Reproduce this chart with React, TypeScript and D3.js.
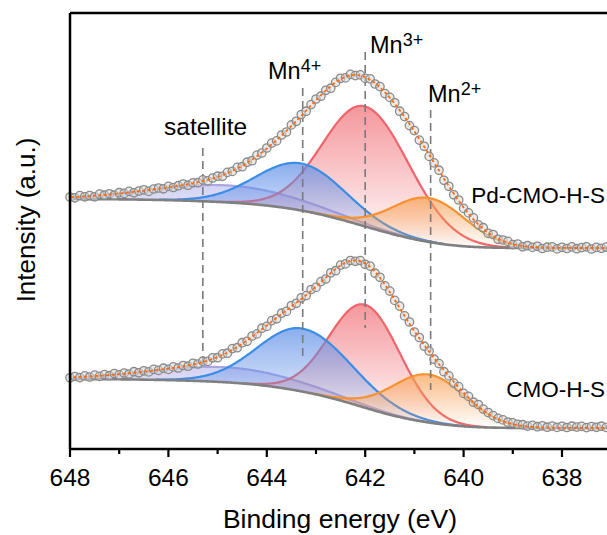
import React from "react";
import * as d3 from "d3";

// Measured spectra (intensity, a.u.), sampled every 0.1 eV from 648.0 eV down to 637.0 eV
const ENERGY_START = 648.0;
const ENERGY_STEP = 0.1;

const pdCmoCounts = [
  252.0, 251.2, 253.4, 252.2, 253.5, 252.2, 254.9, 253.8, 255.2, 253.8,
  256.3, 255.6, 257.6, 256.2, 258.0, 259.2, 257.6, 260.0, 261.0, 260.2,
  262.6, 261.5, 263.3, 265.0, 263.8, 266.2, 266.3, 269.1, 268.1, 271.0,
  272.8, 272.7, 276.6, 277.6, 281.6, 282.3, 286.8, 288.3, 293.9, 296.0,
  301.0, 305.9, 308.1, 314.0, 317.0, 324.1, 327.7, 334.5, 337.8, 344.4,
  350.0, 352.8, 358.7, 360.8, 366.6, 370.7, 371.1, 374.6, 373.4, 374.1,
  370.6, 370.1, 365.0, 362.4, 355.4, 351.6, 346.2, 337.8, 332.4, 323.4,
  318.4, 308.9, 302.7, 292.6, 286.1, 278.8, 268.7, 262.7, 254.2, 249.0,
  240.6, 236.1, 231.1, 224.1, 221.3, 215.7, 214.5, 209.7, 209.0, 207.6,
  204.4, 205.0, 202.2, 203.3, 201.6, 202.7, 200.5, 201.8, 202.1, 200.1,
  201.7, 200.5, 202.1, 200.3, 201.4, 202.2, 200.0, 201.6, 200.7, 201.9,
  200.4,
];

const cmoCounts = [
  71.2, 72.5, 71.4, 73.1, 72.0, 73.9, 72.6, 74.4, 73.3, 75.4,
  74.1, 76.0, 75.0, 77.3, 76.2, 78.2, 77.1, 79.6, 78.6, 80.8,
  79.6, 82.1, 81.0, 83.5, 82.8, 85.7, 85.0, 87.8, 87.6, 91.2,
  91.3, 95.1, 95.8, 100.4, 101.3, 106.3, 107.7, 113.0, 115.1, 120.8,
  122.6, 128.4, 130.2, 135.8, 137.6, 143.5, 145.7, 151.2, 153.4, 159.5,
  161.6, 167.4, 170.0, 176.2, 178.3, 183.9, 185.1, 188.5, 187.7, 188.4,
  184.7, 182.9, 175.8, 171.7, 163.1, 157.9, 148.6, 142.9, 133.1, 127.0,
  117.0, 111.5, 102.8, 97.9, 89.8, 85.4, 77.3, 73.1, 65.9, 62.4,
  55.6, 52.6, 46.8, 44.5, 39.9, 36.5, 33.4, 30.6, 29.1, 26.8,
  26.1, 24.6, 24.3, 22.9, 23.6, 22.3, 23.2, 21.8, 22.9, 21.6,
  22.7, 21.5, 22.8, 21.9, 22.6, 21.4, 22.5, 21.7, 22.8, 21.6,
  22.4,
];

// Fitted components: satellite, Mn4+, Mn3+, Mn2+
const componentNames = ["satellite", "Mn4+", "Mn3+", "Mn2+"];
const componentLine = ["#aaa6e4", "#3b8de6", "#f0646b", "#f7922e"];
const componentFill = ["#9c9be6", "#5f8fe7", "#f27a80", "#f8a055"];

const pdCenters = [644.8, 643.3, 642.0, 640.7];
const pdHeights = [17, 47, 120, 44];
const pdSigmaHigh = [1.5, 0.9, 0.85, 0.75];
const pdSigmaLow = [1.5, 0.9, 0.9, 0.75];
const pdBackground = [250, 201]; // high-BE level, low-BE level (Shirley)

const cmoCenters = [644.8, 643.27, 642.0, 640.7];
const cmoHeights = [15, 63, 103, 48];
const cmoSigmaHigh = [1.5, 0.9, 0.72, 0.75];
const cmoSigmaLow = [1.5, 1.0, 0.72, 0.75];
const cmoBackground = [70, 21];

const markerNames = ["satellite", "Mn4+", "Mn3+", "Mn2+"];
const markerEnergies = [645.3, 643.27, 642.0, 640.67];

const xTickMajor = [648, 646, 644, 642, 640, 638];
const xTickMinor = [647, 645, 643, 641, 639, 637];

const sampleNames = ["Pd-CMO-H-S", "CMO-H-S"];

type Spec = {
  centers: number[];
  heights: number[];
  sHigh: number[];
  sLow: number[];
  bg: number[];
};

function gauss(E: number, c: number, h: number, sHigh: number, sLow: number) {
  const s = E >= c ? sHigh : sLow;
  return h * Math.exp(-((E - c) * (E - c)) / (2 * s * s));
}

function buildFit(spec: Spec, grid: number[]) {
  const comps = spec.centers.map((c, i) =>
    grid.map((E) => gauss(E, c, spec.heights[i], spec.sHigh[i], spec.sLow[i]))
  );
  const total = grid.map((_, j) => comps.reduce((s, comp) => s + comp[j], 0));
  // Shirley-type background: grows with integrated peak area from the low-BE side
  const cum: number[] = [];
  let acc = 0;
  total.forEach((v) => {
    acc += v;
    cum.push(acc);
  });
  const [hi, lo] = spec.bg;
  const bg = cum.map((c) => lo + ((hi - lo) * c) / acc);
  const envelope = grid.map((_, j) => bg[j] + total[j]);
  return { comps, bg, envelope };
}

export default function App() {
  const W = 607;
  const H = 535;
  const x = d3.scaleLinear().domain([648, 636.8]).range([70, 621.04]);
  const y = d3.scaleLinear().domain([0, 436]).range([449, 13]);

  const grid = d3.range(636.8, 648.0001, 0.02);
  const specs: Spec[] = [
    { centers: pdCenters, heights: pdHeights, sHigh: pdSigmaHigh, sLow: pdSigmaLow, bg: pdBackground },
    { centers: cmoCenters, heights: cmoHeights, sHigh: cmoSigmaHigh, sLow: cmoSigmaLow, bg: cmoBackground },
  ];
  const measured = [pdCmoCounts, cmoCounts];
  const fits = specs.map((s) => buildFit(s, grid));

  const line = d3
    .line<[number, number]>()
    .x((d) => x(d[0]))
    .y((d) => y(d[1]))
    .curve(d3.curveLinear);

  const area = d3
    .area<[number, number, number]>()
    .x((d) => x(d[0]))
    .y0((d) => y(d[1]))
    .y1((d) => y(d[2]));

  const font = "'Liberation Sans', Arial, Helvetica, sans-serif";

  const drawOrder = [0, 2, 1, 3];
  const topOpacity = [0.45, 0.72, 0.78, 0.72];

  // dashed marker extents (pixel layout)
  const markerY = [
    [148, 365],
    [88, 360],
    [52, 328],
    [110, 390],
  ];

  return (
    <svg
      width={W}
      height={H}
      style={{ position: "absolute", left: 0, top: 0, background: "#fff" }}
      fontFamily={font}
    >
      <defs>
        {componentFill.map((c, i) => (
          <linearGradient key={i} id={`grad${i}`} x1="0" y1="0" x2="0" y2="1">
            <stop offset="0%" stopColor={c} stopOpacity={topOpacity[i]} />
            <stop offset="100%" stopColor={c} stopOpacity={0.0} />
          </linearGradient>
        ))}
      </defs>

      {fits.map((fit, si) => (
        <g key={si}>
          {drawOrder.map((ci) => {
            const comp = fit.comps[ci];
            const pts: [number, number, number][] = grid.map((E, j) => [E, fit.bg[j], fit.bg[j] + comp[j]]);
            const sig = pts.filter((_, j) => comp[j] > 0.25);
            return (
              <g key={componentNames[ci]}>
                <path d={area(pts) || ""} fill={`url(#grad${ci})`} stroke="none" />
                <path
                  d={line(sig.map((p) => [p[0], p[2]] as [number, number])) || ""}
                  fill="none"
                  stroke={componentLine[ci]}
                  strokeWidth={2.2}
                />
              </g>
            );
          })}
          <path
            d={line(grid.map((E, j) => [E, fit.bg[j]] as [number, number])) || ""}
            fill="none"
            stroke="#808080"
            strokeWidth={2.6}
          />
        </g>
      ))}

      {/* marker dashed lines */}
      {markerEnergies.map((e, i) => (
        <line
          key={markerNames[i]}
          x1={x(e)}
          x2={x(e)}
          y1={markerY[i][0]}
          y2={markerY[i][1]}
          stroke="#7a7a7a"
          strokeWidth={1.6}
          strokeDasharray="8 5"
        />
      ))}

      {/* measured points */}
      {measured.map((arr, si) => (
        <g key={si}>
          {arr.map((v, i) => (
            <circle
              key={i}
              cx={x(ENERGY_START - i * ENERGY_STEP)}
              cy={y(v)}
              r={4.2}
              fill="#d8d8d8"
              fillOpacity={0.55}
              stroke="#8a8a8a"
              strokeWidth={1.3}
            />
          ))}
        </g>
      ))}

      {/* fit envelopes */}
      {fits.map((fit, si) => (
        <path
          key={si}
          d={line(grid.map((E, j) => [E, fit.envelope[j]] as [number, number])) || ""}
          fill="none"
          stroke="#ff6a10"
          strokeWidth={1.8}
          strokeDasharray="3 2.5"
        />
      ))}

      {/* frame */}
      <line x1={x(648)} x2={x(636.8)} y1={13} y2={13} stroke="#000" strokeWidth={2.5} />
      <line x1={x(648)} x2={x(636.8)} y1={449} y2={449} stroke="#000" strokeWidth={2.5} />
      <line x1={x(648)} x2={x(648)} y1={13} y2={449} stroke="#000" strokeWidth={2.5} />

      {/* ticks */}
      {xTickMajor.map((t) => (
        <g key={t}>
          <line x1={x(t)} x2={x(t)} y1={449} y2={457} stroke="#000" strokeWidth={2.2} />
          <text x={x(t)} y={486} textAnchor="middle" fontSize={24.5} fill="#000">
            {t}
          </text>
        </g>
      ))}
      {xTickMinor.map((t) => (
        <line key={t} x1={x(t)} x2={x(t)} y1={449} y2={454} stroke="#000" strokeWidth={2.2} />
      ))}

      {/* axis titles */}
      <text x={340} y={528} textAnchor="middle" fontSize={26.5} fill="#000">
        Binding energy (eV)
      </text>
      <text
        transform="translate(35,220) rotate(-90)"
        textAnchor="middle"
        fontSize={26}
        fill="#000"
      >
        Intensity (a.u.)
      </text>

      {/* annotations */}
      <text x={164} y={135} fontSize={24.5} fill="#000">
        satellite
      </text>
      <text x={268} y={79} fontSize={23.5} fill="#000">
        Mn<tspan dy={-7} fontSize={18}>4+</tspan>
      </text>
      <text x={370} y={53} fontSize={23.5} fill="#000">
        Mn<tspan dy={-7} fontSize={18}>3+</tspan>
      </text>
      <text x={428} y={102} fontSize={23.5} fill="#000">
        Mn<tspan dy={-7} fontSize={18}>2+</tspan>
      </text>

      <text x={605} y={203} textAnchor="end" fontSize={22.5} fill="#000">
        {sampleNames[0]}
      </text>
      <text x={605} y={397} textAnchor="end" fontSize={22.5} fill="#000">
        {sampleNames[1]}
      </text>
    </svg>
  );
}
